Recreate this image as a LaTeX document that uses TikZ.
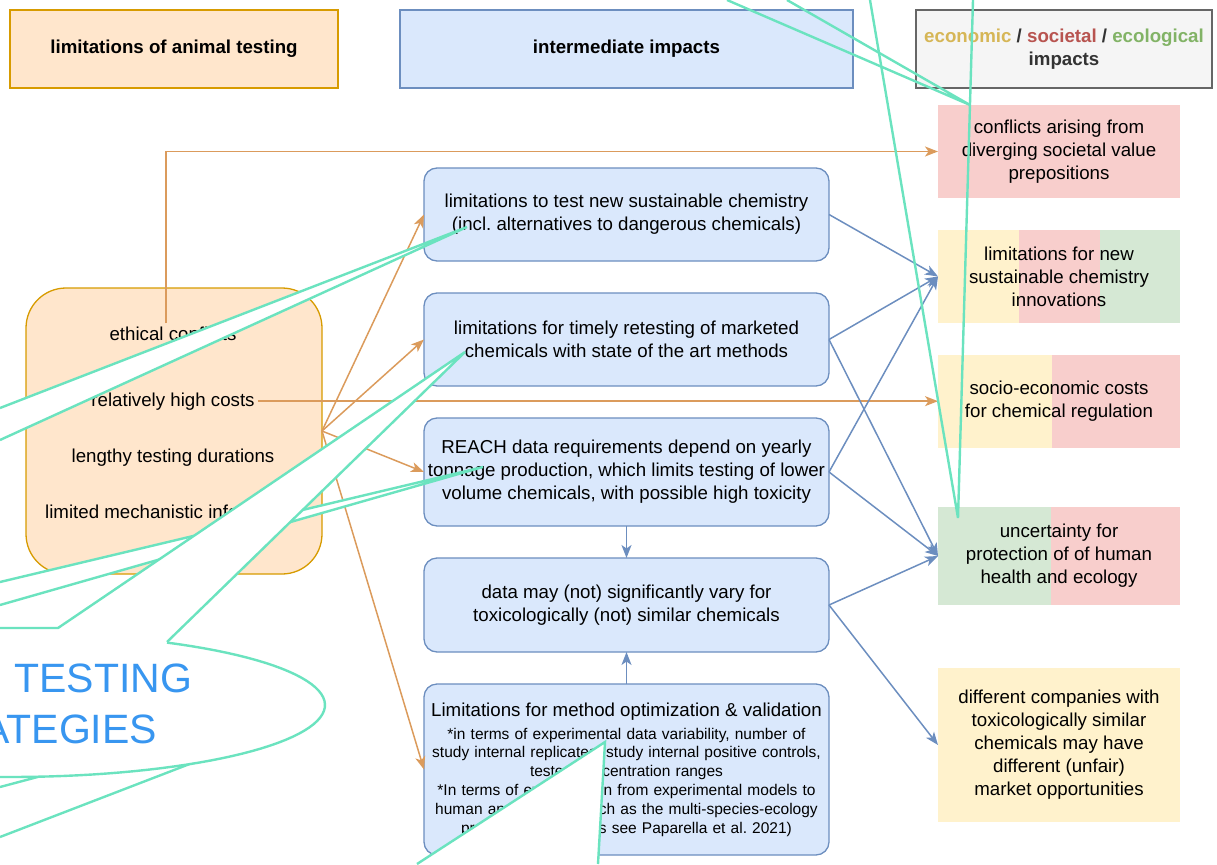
\documentclass[tikz,border=0pt]{standalone}
\usepackage{fontspec}
\setmainfont{Liberation Sans}
\usetikzlibrary{arrows.meta}
\definecolor{orgfill}{HTML}{FFE6CC}
\definecolor{orgline}{HTML}{D79B00}
\definecolor{orgarrow}{HTML}{DB9B5C}
\definecolor{bluefill}{HTML}{DAE8FC}
\definecolor{blueline}{HTML}{6C8EBF}
\definecolor{greyfill}{HTML}{F5F5F5}
\definecolor{greyline}{HTML}{666666}
\definecolor{greytxt}{HTML}{333333}
\definecolor{redfill}{HTML}{F8CECC}
\definecolor{yelfill}{HTML}{FFF2CC}
\definecolor{grnfill}{HTML}{D5E8D4}
\definecolor{ecotxt}{HTML}{D6B656}
\definecolor{soctxt}{HTML}{B85450}
\definecolor{ecltxt}{HTML}{82B366}
\definecolor{calloutline}{HTML}{6BE3BF}
\definecolor{callouttxt}{HTML}{3896F0}
\newcommand{\bodyfont}{\fontsize{18.7}{23}\selectfont}
\newcommand{\notefont}{\fontsize{15.5}{18.8}\selectfont}
\frenchspacing

\begin{document}
\begin{tikzpicture}[x=1pt,y=-1pt,
    every node/.style={outer sep=0pt,font=\bodyfont,align=center},
    header/.style={rectangle,inner sep=0pt,line width=1.3pt,minimum height=78pt,font=\bodyfont\bfseries},
    midbox/.style={rectangle,rounded corners=13pt,draw=blueline,fill=bluefill,line width=1.3pt,minimum width=405pt,inner sep=0pt},
    impact/.style={rectangle,minimum width=242pt,inner sep=0pt},
    reason/.style={anchor=base,inner sep=3pt},
    orgarr/.style={draw=orgarrow,line width=1.5pt,-{Stealth[length=13pt,width=10pt,inset=3.5pt]}},
    bluarr/.style={draw=blueline,line width=1.5pt,-{Stealth[length=13pt,width=10pt,inset=3.5pt]}},
    callout/.style={draw=calloutline,line width=2.4pt,line join=miter}]
    \useasboundingbox (0,0) rectangle (1217,864);

    \node[header,draw=orgline,fill=orgfill,minimum width=328pt] (hanimal) at (174,49) {limitations of animal testing};
    \node[header,draw=blueline,fill=bluefill,minimum width=453pt] (hinter) at (626.5,49) {intermediate impacts};
    \node[header,draw=greyline,fill=greyfill,text=greytxt,minimum width=296pt] (himpact) at (1064,49)
        {\textcolor{ecotxt}{economic} / \textcolor{soctxt}{societal} / \textcolor{ecltxt}{ecological}\\impacts};

    \node[draw=orgline,fill=orgfill,rounded corners=40pt,line width=1.3pt,minimum width=296pt,minimum height=286pt] (animal) at (174,431) {};
    \node[reason] (ethic) at (173,340) {ethical conflicts};
    \node[reason] (price) at (173,406) {relatively high costs};
    \node[reason] (duration) at (173,462) {lengthy testing durations};
    \node[reason] (mechanism) at (173,518) {limited mechanistic information};

    \node[midbox,minimum height=93pt] (sust) at (626.5,214.5) {limitations to test new sustainable chemistry\\(incl. alternatives to dangerous chemicals)};
    \node[midbox,minimum height=93pt] (retest) at (626.5,339.5) {limitations for timely retesting of marketed\\chemicals with state of the art methods};
    \node[midbox,minimum height=108pt] (reach) at (626.5,472) {REACH data requirements depend on yearly\\tonnage production, which limits testing of lower\\volume chemicals, with possible high toxicity};
    \node[midbox,minimum height=94pt] (vary) at (626.5,605) {data may (not) significantly vary for\\toxicologically (not) similar chemicals};
    \node[midbox,minimum height=171pt,text width=400pt,font=\notefont] (valid) at (626.5,769.5)
        {{\bodyfont Limitations for method optimization \& validation\par}\vspace{4pt}
        {*}in terms of experimental data variability, number of\\
        study internal replicates, study internal positive controls,\\
        tested concentration ranges\\
        {*}In terms of extrapolation from experimental models to\\
        human and ecology (such as the multi-species-ecology\\
        protection, for details see Paparella et al. 2021)};

    \node[impact,fill=redfill,minimum height=93pt] (conflict) at (1059,151.5) {conflicts arising from\\diverging societal value\\prepositions};
    \node[impact,fill=redfill,minimum height=93pt,path picture={
            \fill[yelfill] (path picture bounding box.north west) rectangle ([xshift=81pt]path picture bounding box.south west);
            \fill[grnfill] ([xshift=-80pt]path picture bounding box.north east) rectangle (path picture bounding box.south east);}]
        (innovation) at (1059,276.5) {limitations for new\\sustainable chemistry\\innovations};
    \node[impact,fill=redfill,minimum height=93pt,path picture={
            \fill[yelfill] (path picture bounding box.north west) rectangle ([xshift=114pt]path picture bounding box.south west);}]
        (regcost) at (1059,401.5) {socio-economic costs\\for chemical regulation};
    \node[impact,fill=redfill,minimum height=98pt,path picture={
            \fill[grnfill] (path picture bounding box.north west) rectangle ([xshift=113pt]path picture bounding box.south west);}]
        (protection) at (1059,556) {uncertainty for\\protection of of human\\health and ecology};
    \node[impact,fill=yelfill,minimum height=154pt] (market) at (1059,745) {different companies with\\toxicologically similar\\chemicals may have\\different (unfair)\\market opportunities};

    \draw[orgarr] ([xshift=-7pt]ethic.north) |- (conflict.west);
    \draw[orgarr] (price.east) -- (price.east -| regcost.west);
    \foreach \t in {sust,retest,reach,valid}
        \draw[orgarr] (animal.east) -- (\t.west);
    \foreach \s/\t in {sust/innovation,retest/innovation,retest/protection,reach/innovation,reach/protection,vary/protection,vary/market}
        \draw[bluarr] (\s.east) -- (\t.west);
    \draw[bluarr] (reach.south) -- (vary.north);
    \draw[bluarr] (valid.north) -- (vary.south);

    \begin{scope}
        \clip (0,0) rectangle (1217,864);
        \draw[callout] (0,787) -- (60,771);
        \draw[callout] (0,837) -- (200,760);
        \fill[white] (0,582) -- (483,467) -- (0,605) -- cycle;
        \draw[callout] (0,582) -- (483,467) -- (0,605);
        \fill[white] (10,705) ellipse [x radius=315, y radius=72];
        \fill[white] (0,628) -- (58,628) -- (465,352) -- (167,642) -- (0,640) -- cycle;
        \draw[callout] (0,628) -- (58,628) -- (465,352) -- (167,642);
        \draw[callout] plot[domain=-60.1:180,samples=90] ({10+315*cos(\x)},{705+72*sin(\x)});
        \node[text=callouttxt,font=\fontsize{41}{49}\selectfont,anchor=base east,inner sep=0pt] (testing) at (192,692) {TESTING};
        \node[text=callouttxt,font=\fontsize{41}{49}\selectfont,anchor=base east,inner sep=0pt] (strategies) at (157,743) {STRATEGIES};
        \fill[white] (0,408) -- (467,227) -- (0,440) -- cycle;
        \draw[callout] (0,408) -- (467,227) -- (0,440);
        \fill[white] (417,864) -- (605,742) -- (598,864) -- cycle;
        \draw[callout] (417,864) -- (605,742) -- (598,864);
        \draw[callout] (727,0) -- (970,105) -- (787,0);
        \draw[callout] (870,0) -- (958,518) -- (973,0);
    \end{scope}
\end{tikzpicture}
\end{document}
